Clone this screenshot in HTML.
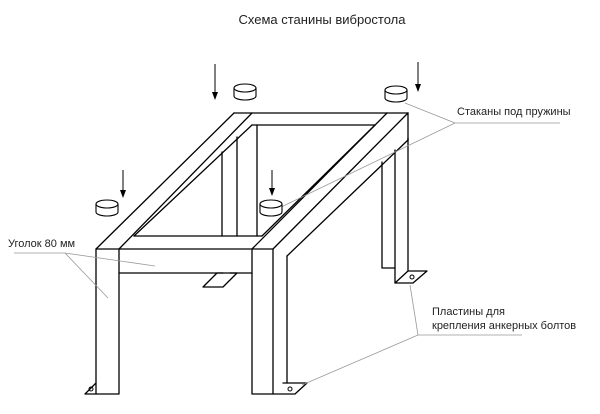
<!DOCTYPE html>
<html><head><meta charset="utf-8"><style>
html,body{margin:0;padding:0;background:#fff;}
svg{display:block}
text{font-family:"Liberation Sans",sans-serif;fill:#222}
</style></head><body>
<svg width="600" height="414" viewBox="0 0 600 414" xmlns="http://www.w3.org/2000/svg">
<text x="322" y="24" font-size="13" text-anchor="middle">Схема станины вибростола</text>
<text x="457" y="115" font-size="11">Стаканы под пружины</text>
<text x="8" y="247" font-size="11">Уголок 80 мм</text>
<text x="432" y="315" font-size="11">Пластины для</text>
<text x="432" y="329" font-size="11">крепления анкерных болтов</text>
<g stroke="#000" stroke-width="1.3" fill="none" stroke-linejoin="round" stroke-linecap="round">
<line x1="96" y1="249" x2="234" y2="113"/>
<line x1="119" y1="249" x2="252" y2="113"/>
<line x1="134" y1="236" x2="252" y2="125"/>
<line x1="234" y1="113" x2="408" y2="113"/>
<line x1="252" y1="125" x2="375" y2="125"/>
<line x1="252" y1="249" x2="387" y2="113"/>
<line x1="273" y1="249" x2="408" y2="113"/>
<line x1="262" y1="236" x2="375" y2="125"/>
<line x1="408" y1="113" x2="408" y2="140"/>
<line x1="287" y1="256" x2="408" y2="140"/>
<line x1="134" y1="236" x2="262" y2="236"/>
<line x1="119" y1="249" x2="252" y2="249"/>
<line x1="119" y1="273" x2="252" y2="273"/>
<line x1="222" y1="152" x2="222" y2="236"/>
<line x1="237" y1="137" x2="237" y2="236"/>
<line x1="257" y1="125" x2="257" y2="236"/>
<polyline points="223,273 217,273 203,287 223,287 237,273 230,273"/>
<polyline points="382,162 382,268 395,268"/>
<polyline points="395,150 395,283 408,271 408,138"/>
<polyline points="408,271 427,271 413,283 395,283"/>
<polyline points="96,249 96,394 119,394 119,249 96,249"/>
<polyline points="96,383 85,394 96,394"/>
<polyline points="252,249 252,394 273,394 273,249 252,249"/>
<line x1="287" y1="256" x2="287" y2="383"/>
<polyline points="273,394 295,394 307,383 283,383"/>
</g>
<g fill="none" stroke="#000" stroke-width="1">
<circle cx="91" cy="389" r="2"/><circle cx="290" cy="389" r="2"/><circle cx="412" cy="277" r="2"/>
</g>
<g stroke="#999" stroke-width="0.8" fill="none">
<line x1="455" y1="123" x2="560" y2="123"/><line x1="455" y1="123" x2="405" y2="103"/><line x1="455" y1="123" x2="275" y2="210"/>
<line x1="14" y1="253" x2="65" y2="253"/><line x1="65" y1="253" x2="155" y2="266"/><line x1="65" y1="253" x2="108" y2="298"/>
<line x1="418" y1="335" x2="522" y2="335"/><line x1="418" y1="335" x2="410" y2="285"/><line x1="418" y1="335" x2="302" y2="385"/>
</g>
<g stroke="#000" stroke-width="1.1" fill="#fff">
<g transform="translate(245,92)"><path d="M-11,-4 v8 a11,4 0 0 0 22,0 v-8"/><ellipse cx="0" cy="-4" rx="11" ry="4"/></g>
<g transform="translate(396,94)"><path d="M-11,-4 v8 a11,4 0 0 0 22,0 v-8"/><ellipse cx="0" cy="-4" rx="11" ry="4"/></g>
<g transform="translate(107,208)"><path d="M-11,-4 v8 a11,4 0 0 0 22,0 v-8"/><ellipse cx="0" cy="-4" rx="11" ry="4"/></g>
<g transform="translate(271,208)"><path d="M-11,-4 v8 a11,4 0 0 0 22,0 v-8"/><ellipse cx="0" cy="-4" rx="11" ry="4"/></g>
</g>
<g stroke="#000" stroke-width="1">
<line x1="215" y1="64" x2="215" y2="96"/><line x1="418" y1="62" x2="418" y2="88"/>
<line x1="123" y1="170" x2="123" y2="194"/><line x1="272" y1="170" x2="272" y2="192"/>
</g>
<g fill="#000">
<polygon points="212,92 218,92 215,100"/><polygon points="415,84 421,84 418,92"/>
<polygon points="120,190 126,190 123,198"/><polygon points="269,188 275,188 272,196"/>
</g>
</svg>
</body></html>
